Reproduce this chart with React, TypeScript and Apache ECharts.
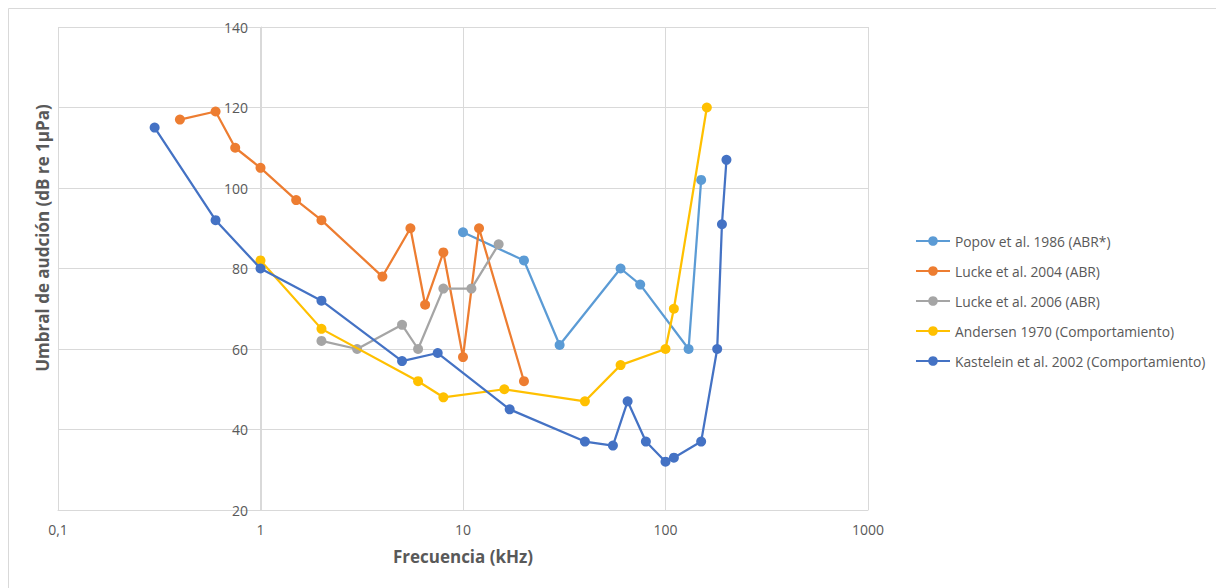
import React, { useEffect, useRef } from "react";
import * as echarts from "echarts";

const popovX = [10, 20, 30, 60, 75, 130, 150];
const popovY = [89, 82, 61, 80, 76, 60, 102];

const lucke2004X = [0.4, 0.6, 0.75, 1, 1.5, 2, 4, 5.5, 6.5, 8, 10, 12, 20];
const lucke2004Y = [117, 119, 110, 105, 97, 92, 78, 90, 71, 84, 58, 90, 52];

const lucke2006X = [2, 3, 5, 6, 8, 11, 15];
const lucke2006Y = [62, 60, 66, 60, 75, 75, 86];

const andersenX = [1, 2, 6, 8, 16, 40, 60, 100, 110, 160];
const andersenY = [82, 65, 52, 48, 50, 47, 56, 60, 70, 120];

const kasteleinX = [0.3, 0.6, 1, 2, 5, 7.5, 17, 40, 55, 65, 80, 100, 110, 150, 180, 190, 200];
const kasteleinY = [115, 92, 80, 72, 57, 59, 45, 37, 36, 47, 37, 32, 33, 37, 60, 91, 107];

const seriesNames = [
  "Popov et al. 1986 (ABR*)",
  "Lucke et al. 2004 (ABR)",
  "Lucke et al. 2006 (ABR)",
  "Andersen 1970 (Comportamiento)",
  "Kastelein et al. 2002 (Comportamiento)",
];
const seriesColors = ["#5B9BD5", "#ED7D31", "#A5A5A5", "#FFC000", "#4472C4"];
const xTickLabels: Record<string, string> = { "0.1": "0,1", "1": "1", "10": "10", "100": "100", "1000": "1000" };

const xTitle = "Frecuencia (kHz)";
const yTitle = "Umbral de audción (dB re 1µPa)";

const zip = (xs: number[], ys: number[]) => xs.map((x, i) => [x, ys[i]]);

export default function App() {
  const ref = useRef<HTMLDivElement>(null);
  useEffect(() => {
    if (!ref.current) return;
    const chart = echarts.init(ref.current, undefined, { renderer: "svg" });
    const data = [
      zip(popovX, popovY),
      zip(lucke2004X, lucke2004Y),
      zip(lucke2006X, lucke2006Y),
      zip(andersenX, andersenY),
      zip(kasteleinX, kasteleinY),
    ];
    const font = "Open Sans, sans-serif";
    chart.setOption({
      animation: false,
      backgroundColor: "#ffffff",
      textStyle: { fontFamily: font },
      grid: { left: 58, right: 348, top: 27, bottom: 78, containLabel: false },
      xAxis: {
        type: "log",
        logBase: 10,
        min: 0.1,
        max: 1000,
        axisLine: { show: true, lineStyle: { color: "#d9d9d9", width: 1 } },
        axisTick: { show: false },
        splitLine: { show: true, lineStyle: { color: "#d9d9d9", width: 1 } },
        axisLabel: {
          color: "#595959",
          fontSize: 14,
          margin: 12,
          fontFamily: font,
          formatter: (v: number) => {
            const k = String(Math.round(v * 10) / 10);
            return xTickLabels[k] ?? k;
          },
        },
        name: xTitle,
        nameLocation: "middle",
        nameGap: 38,
        nameTextStyle: { color: "#595959", fontSize: 17, fontWeight: "bold", fontFamily: font },
      },
      yAxis: {
        type: "value",
        min: 20,
        max: 140,
        interval: 20,
        position: "left",
        offset: -203,
        axisLine: { show: true, lineStyle: { color: "#d9d9d9", width: 1 } },
        axisTick: { show: false },
        splitLine: { show: true, lineStyle: { color: "#d9d9d9", width: 1 } },
        axisLabel: { color: "#595959", fontSize: 14, margin: 13, fontFamily: font },
      },
      legend: {
        orient: "vertical",
        left: 910,
        top: 229,
        itemWidth: 34,
        itemHeight: 12,
        itemGap: 16,
        textStyle: { color: "#595959", fontSize: 13.8, fontFamily: font },
        data: seriesNames,
      },
      graphic: [
        {
          type: "rect",
          shape: { x: 8.5, y: 8.5, width: 1260, height: 640 },
          style: { fill: "none", stroke: "#d9d9d9", lineWidth: 1 },
          silent: true,
        },
        {
          type: "text",
          x: 42,
          y: 238,
          rotation: Math.PI / 2,
          style: {
            text: yTitle,
            fill: "#595959",
            fontSize: 17,
            fontWeight: "bold",
            fontFamily: font,
            align: "center",
            verticalAlign: "middle",
          },
        },
      ],
      series: data.map((d, i) => ({
        name: seriesNames[i],
        type: "line",
        data: d,
        symbol: "circle",
        symbolSize: 10,
        color: seriesColors[i],
        lineStyle: { width: 2.25, color: seriesColors[i] },
        itemStyle: { color: seriesColors[i] },
        z: 2 + i,
      })),
    });
    return () => chart.dispose();
  }, []);
  return <div ref={ref} style={{ position: "fixed", left: 0, top: 0, width: 1216, height: 588 }} />;
}
